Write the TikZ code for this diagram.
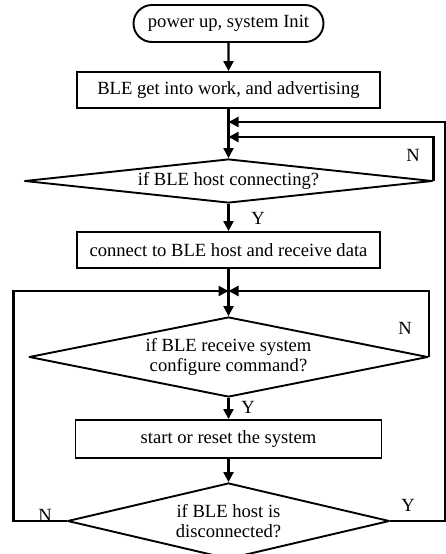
\documentclass[tikz,border=0pt]{standalone}
\usepackage{fontspec}
\setmainfont{Liberation Serif}
\usetikzlibrary{shapes.geometric,shapes.misc,arrows.meta}

\begin{document}
\begin{tikzpicture}[x=1pt,y=-1pt,
    font=\fontsize{18.6}{19.7}\selectfont,
    term/.style={draw,rounded rectangle,line width=1.9pt,minimum width=190pt,minimum height=37pt,inner sep=0pt},
    box/.style={draw,rectangle,line width=1.9pt,minimum width=303pt,minimum height=36pt,inner sep=0pt},
    decision/.style={draw,diamond,line width=1.9pt,line join=round,inner sep=0pt,align=center},
    flow/.style={line width=2.3pt,-{Triangle[length=10pt,width=10pt]}}]

    \useasboundingbox (0,0) rectangle (446,554);

    \node[term] (init) at (228.5,23.5) {power up, system Init};
    \node[box] (adv) at (228.5,90) {BLE get into work, and advertising};
    \node[decision,aspect=9.3,minimum width=408pt,minimum height=44pt] (conn) at (228.5,181) {if BLE host connecting?};
    \node[box] (rcv) at (228.5,250) {connect to BLE host and receive data};
    \node[decision,aspect=5,minimum width=399pt,minimum height=80pt] (cfg) at (228.5,357) {if BLE receive system\\configure command?};
    \node[box,minimum width=306pt,minimum height=38pt] (sys) at (228.5,439) {start or reset the system};
    \node[decision,aspect=4.2,minimum width=322pt,minimum height=76pt] (disc) at (228.5,521) {if BLE host is\\disconnected?};

    \coordinate (j1) at (228.5,122);
    \coordinate (j2) at (228.5,137);
    \coordinate (j3) at (228.5,291);

    \draw[flow] (init) -- (adv);
    \draw[flow] (adv) -- (conn);
    \draw[flow] (conn) -- (rcv);
    \draw[flow] (rcv) -- (cfg);
    \draw[flow] (cfg) -- (sys);
    \draw[flow] (sys) -- (disc);

    \draw[flow] (conn.east) |- (j2);
    \draw[flow] (cfg.east) |- (j3);
    \draw[flow] (disc.east) -- ++(55,0) |- (j1);
    \draw[flow] (disc.west) -- ++(-53,0) |- (j3);

    \node (n1) at (413,155) {N};
    \node (y1) at (258,218) {Y};
    \node (n2) at (405,328) {N};
    \node (y2) at (248,407) {Y};
    \node (n3) at (45,515) {N};
    \node (y3) at (408,505) {Y};
\end{tikzpicture}
\end{document}
